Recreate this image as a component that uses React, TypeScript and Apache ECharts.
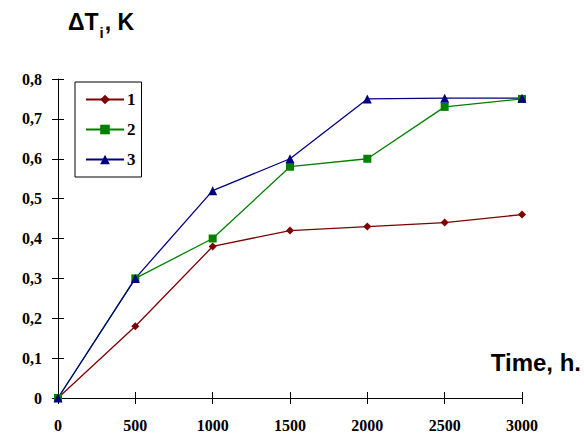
import React, { useEffect, useRef } from "react";
import * as echarts from "echarts";

const times = [0, 500, 1000, 1500, 2000, 2500, 3000];
const series1 = [0, 0.18, 0.38, 0.42, 0.43, 0.44, 0.46];
const series2 = [0, 0.3, 0.4, 0.58, 0.6, 0.73, 0.75];
const series3 = [0, 0.3, 0.52, 0.6, 0.75, 0.752, 0.752];
const seriesNames = ["1", "2", "3"];

const serif = "Liberation Serif";
const sans = "Liberation Sans";

export default function App() {
  const ref = useRef<HTMLDivElement>(null);
  useEffect(() => {
    if (!ref.current) return;
    const chart = echarts.init(ref.current, undefined, { renderer: "svg" });
    const pair = (arr: number[]) => times.map((t, i) => [t, arr[i]]);
    const axisFont = { fontFamily: serif, fontWeight: "bold" as const, fontSize: 16, color: "#000" };
    chart.setOption({
      animation: false,
      backgroundColor: "#fff",
      grid: { left: 58, right: 62, top: 79, bottom: 40 },
      title: {
        text: "ΔT{sub|i}, K",
        left: 63,
        top: 5,
        textStyle: {
          fontFamily: sans,
          fontWeight: "bold",
          fontSize: 23,
          color: "#000",
          rich: {
            sub: { fontFamily: sans, fontWeight: "bold", fontSize: 15, color: "#000", verticalAlign: "bottom", padding: [0, 1, -7, 1] },
          },
        },
      },
      graphic: [
        {
          type: "text",
          right: 3,
          top: 350,
          style: { text: "Time, h.", fontFamily: sans, fontWeight: "bold", fontSize: 24, fill: "#000" },
        },
      ],
      legend: {
        orient: "vertical",
        left: 75,
        top: 82,
        data: seriesNames,
        borderColor: "#000",
        borderWidth: 1,
        padding: [9, 6, 9, 10],
        itemWidth: 38,
        itemHeight: 12,
        itemGap: 13,
        textStyle: { ...axisFont, fontSize: 17, padding: [0, 0, 0, -2] },
      },
      xAxis: [
        {
          type: "value",
          min: 0,
          max: 3000,
          interval: 500,
          splitLine: { show: false },
          axisLine: { lineStyle: { color: "#000", width: 1 } },
          axisTick: { length: 6, lineStyle: { color: "#000" } },
          axisLabel: { ...axisFont, margin: 19, formatter: (v: number) => String(v) },
        },
        {
          type: "value",
          position: "bottom",
          min: 0,
          max: 3000,
          interval: 500,
          splitLine: { show: false },
          axisLine: { show: false },
          axisTick: { inside: true, length: 6, lineStyle: { color: "#000" } },
          axisLabel: { show: false },
        },
      ],
      yAxis: [
        {
          type: "value",
          min: 0,
          max: 0.8,
          interval: 0.1,
          splitLine: { show: false },
          axisLine: { show: true, lineStyle: { color: "#000", width: 1 } },
          axisTick: { show: true, length: 6, lineStyle: { color: "#000" } },
          axisLabel: {
            ...axisFont,
            margin: 16,
            formatter: (v: number) => (Math.round(v * 10) / 10).toString().replace(".", ","),
          },
        },
        {
          type: "value",
          position: "left",
          min: 0,
          max: 0.8,
          interval: 0.1,
          splitLine: { show: false },
          axisLine: { show: false },
          axisTick: { show: true, inside: true, length: 6, lineStyle: { color: "#000" } },
          axisLabel: { show: false },
        },
      ],
      series: [
        {
          name: seriesNames[0],
          type: "line",
          data: pair(series1),
          symbol: "diamond",
          symbolSize: 8,
          color: "#800000",
          lineStyle: { width: 1.3, color: "#800000" },
          itemStyle: { color: "#800000" },
        },
        {
          name: seriesNames[1],
          type: "line",
          data: pair(series2),
          symbol: "rect",
          symbolSize: 8,
          color: "#008000",
          lineStyle: { width: 1.3, color: "#008000" },
          itemStyle: { color: "#008000" },
        },
        {
          name: seriesNames[2],
          type: "line",
          data: pair(series3),
          symbol: "triangle",
          symbolSize: 9,
          color: "#000080",
          lineStyle: { width: 1.3, color: "#000080" },
          itemStyle: { color: "#000080" },
        },
      ],
    });
    return () => chart.dispose();
  }, []);
  return <div ref={ref} style={{ width: 584, height: 438, position: "absolute", left: 0, top: 0 }} />;
}
